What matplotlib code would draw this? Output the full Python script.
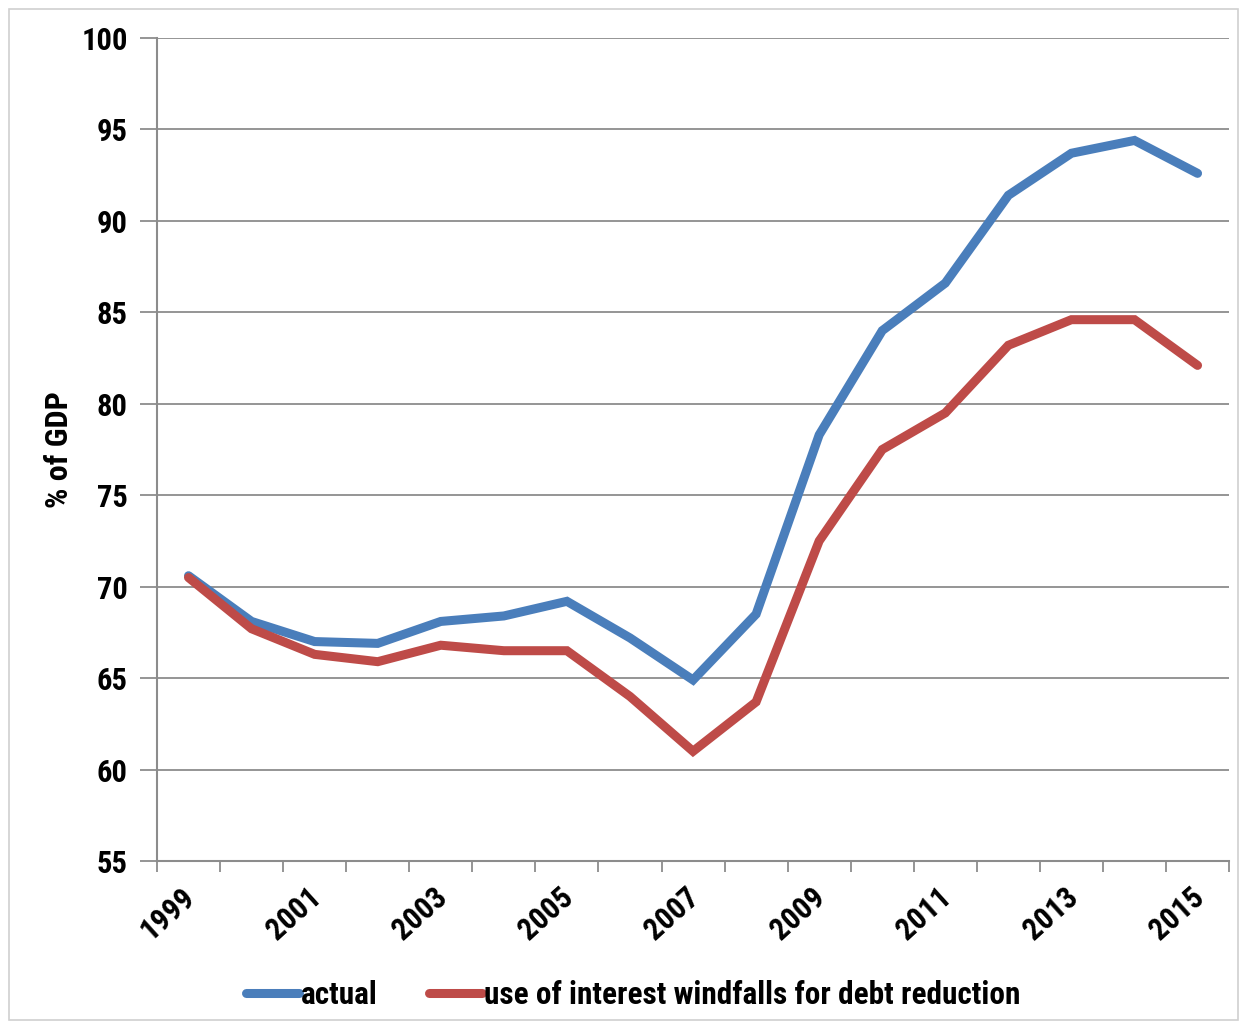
import matplotlib
matplotlib.use("Agg")
import matplotlib.pyplot as plt
from matplotlib.patches import Rectangle
from matplotlib.transforms import ScaledTranslation

years = list(range(1999, 2016))
actual = [70.6, 68.1, 67.0, 66.9, 68.1, 68.4, 69.2, 67.2, 64.9, 68.5,
          78.3, 84.0, 86.6, 91.4, 93.7, 94.4, 92.6]
windfalls = [70.5, 67.7, 66.3, 65.9, 66.8, 66.5, 66.5, 64.0, 61.0, 63.7,
             72.5, 77.5, 79.5, 83.2, 84.6, 84.6, 82.1]
y_ticks = list(range(55, 101, 5))

plt.rcParams['font.family'] = ['Roboto Condensed', 'DejaVu Sans']
plt.rcParams['font.weight'] = 'bold'

fig = plt.figure(figsize=(12.39, 10.22), dpi=100)
ax = fig.add_axes([0.1267, 0.1575, 0.8653, 0.8053])

# thin frame round the whole chart
fig.patches.append(Rectangle((0.007, 0.002), 0.992, 0.989, transform=fig.transFigure,
                             fill=False, edgecolor='#d0d0d0', linewidth=1.2))

x = list(range(len(years)))
ax.plot(x, actual, color='#4A7EBB', lw=6.5, solid_capstyle='round',
        solid_joinstyle='miter', label='actual', zorder=3)
ax.plot(x, windfalls, color='#BE4B48', lw=6.5, solid_capstyle='round',
        solid_joinstyle='miter', label='use of interest windfalls for debt reduction', zorder=3)

ax.set_xlim(-0.5, len(years) - 0.5)
ax.set_ylim(55, 100)
ax.set_yticks(y_ticks)
ax.set_yticklabels([str(v) for v in y_ticks], fontsize=22, fontweight='bold')
ax.grid(axis='y', color='#8c8c8c', lw=1.3)
ax.set_axisbelow(True)

# labels on every other year, tick marks between categories
ax.set_xticks(x[::2])
ax.set_xticklabels([str(y) for y in years[::2]], rotation=42, ha='right',
                   rotation_mode='anchor', fontsize=22, fontweight='bold')
ax.tick_params(axis='x', which='major', length=0, pad=18)
shift = ScaledTranslation(-8 / 100, 4 / 100, fig.dpi_scale_trans)
for lbl in ax.get_xticklabels():
    lbl.set_transform(lbl.get_transform() + shift)
ax.set_xticks([i - 0.5 for i in range(len(years) + 1)], minor=True)
ax.tick_params(axis='x', which='minor', length=8, width=1.3, color='#8c8c8c')
ax.tick_params(axis='y', length=12, width=1.3, color='#8c8c8c', pad=9)

for side in ['top', 'right']:
    ax.spines[side].set_visible(False)
for side in ['left', 'bottom']:
    ax.spines[side].set_color('#8c8c8c')
    ax.spines[side].set_linewidth(1.5)

ax.set_ylabel('% of GDP', fontsize=23, fontweight='bold', labelpad=5)

leg = ax.legend(loc='upper center', bbox_to_anchor=(0.444, -0.11), ncol=2, frameon=False,
                fontsize=22.5, handlelength=1.7, handletextpad=0.05, columnspacing=1.65)

fig.savefig('out.png', dpi=100)
